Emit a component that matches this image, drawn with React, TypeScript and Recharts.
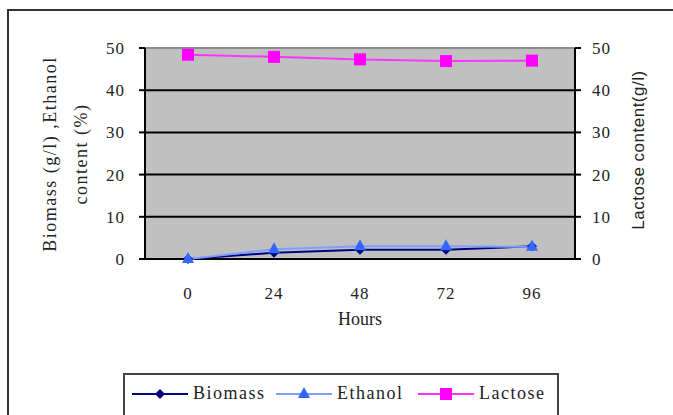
import { CartesianGrid, Line, LineChart, ReferenceLine, XAxis, YAxis } from "recharts";

const hours = ["0", "24", "48", "72", "96"];
const biomass = [0, 1.5, 2.2, 2.2, 3.0];
const ethanol = [0, 2.3, 3.0, 3.0, 2.9];
const lactose = [48.4, 47.9, 47.3, 46.9, 47.0];
const yTicks = [0, 10, 20, 30, 40, 50];
const bandEdges = [1, 2, 3, 4];

const data = hours.map((h, i) => ({
  hour: h,
  biomass: biomass[i],
  ethanol: ethanol[i],
  lactose: lactose[i],
}));

const serif = "Times New Roman, Liberation Serif, DejaVu Serif, serif";
const sans = "Arial, Liberation Sans, sans-serif";

const Diamond = ({ cx, cy, fill }: any) =>
  cx == null ? null : (
    <polygon points={`${cx},${cy - 5} ${cx + 5},${cy} ${cx},${cy + 5} ${cx - 5},${cy}`} fill={fill} />
  );
const Triangle = ({ cx, cy, fill }: any) =>
  cx == null ? null : (
    <polygon points={`${cx},${cy - 7} ${cx + 6},${cy + 4} ${cx - 6},${cy + 4}`} fill={fill} />
  );
const Square = ({ cx, cy, fill }: any) =>
  cx == null ? null : <rect x={cx - 6} y={cy - 6} width={12} height={12} fill={fill} />;

const series = [
  { key: "biomass", name: "Biomass", line: "#000080", mark: "#000080", Shape: Diamond },
  { key: "ethanol", name: "Ethanol", line: "#7f9fff", mark: "#3366ff", Shape: Triangle },
  { key: "lactose", name: "Lactose", line: "#ff33ff", mark: "#ff00ff", Shape: Square },
];

const tickStyle = { fontFamily: serif, fontSize: 17, fill: "#222", letterSpacing: 1 };

export default function App() {
  return (
    <div style={{ position: "absolute", left: 0, top: 0, width: 673, height: 415, background: "#fff", overflow: "hidden" }}>
      <div style={{ position: "absolute", left: 7, top: 9, width: 700, height: 500, borderTop: "2px solid #333", borderLeft: "2px solid #333" }} />
      <LineChart width={673} height={415} data={data} margin={{ top: 48, left: 85, right: 38, bottom: 120 }}>
        <CartesianGrid vertical={false} fill="#c0c0c0" stroke="#000" strokeWidth={2} yAxisId="left" />
        <XAxis
          dataKey="hour"
          xAxisId="cat"
          axisLine={false}
          tickLine={false}
          tickMargin={22}
          tick={tickStyle}
          height={36}
          interval={0}
          padding={{ left: 43, right: 43 }}
          label={{ value: "Hours", position: "insideBottom", offset: -30, style: { fontFamily: serif, fontSize: 18, fill: "#222" } }}
        />
        <XAxis
          type="number"
          xAxisId="edges"
          domain={[0, 5]}
          ticks={bandEdges}
          tick={false}
          tickSize={5}
          axisLine={{ stroke: "#000", strokeWidth: 2 }}
          tickLine={{ stroke: "#000", strokeWidth: 2 }}
          height={0}
          orientation="bottom"
        />
        <YAxis
          yAxisId="left"
          domain={[0, 50]}
          ticks={yTicks}
          width={60}
          tickSize={6}
          tickMargin={14}
          tick={tickStyle}
          axisLine={{ stroke: "#000", strokeWidth: 2 }}
          tickLine={{ stroke: "#000", strokeWidth: 2 }}
        />
        <YAxis
          yAxisId="right"
          orientation="right"
          domain={[0, 50]}
          ticks={yTicks}
          width={60}
          tickSize={6}
          tickMargin={11}
          tick={{ ...tickStyle, textAnchor: "start" }}
          axisLine={{ stroke: "#000", strokeWidth: 2 }}
          tickLine={{ stroke: "#000", strokeWidth: 2 }}
        />
        <ReferenceLine yAxisId="left" xAxisId="cat" y={50} stroke="#8c8c8c" strokeWidth={2} />
        {series.map((s) => (
          <Line
            key={s.key}
            dataKey={s.key}
            xAxisId="cat"
            yAxisId={s.key === "lactose" ? "right" : "left"}
            stroke={s.line}
            strokeWidth={2}
            dot={<s.Shape fill={s.mark} />}
            isAnimationActive={false}
          />
        ))}
        <text transform="translate(50,154) rotate(-90)" textAnchor="middle" dominantBaseline="central" style={{ fontFamily: serif, fontSize: 18, fill: "#222", letterSpacing: 1.5 }}>
          Biomass (g/l) ,Ethanol
        </text>
        <text transform="translate(81,154) rotate(-90)" textAnchor="middle" dominantBaseline="central" style={{ fontFamily: serif, fontSize: 18, fill: "#222", letterSpacing: 1.5 }}>
          content (%)
        </text>
        <text transform="translate(638,150) rotate(-90)" textAnchor="middle" dominantBaseline="central" style={{ fontFamily: sans, fontSize: 17, fill: "#222", letterSpacing: 0.5 }}>
          Lactose content(g/l)
        </text>
      </LineChart>
      <div style={{ position: "absolute", left: 123, top: 373, width: 432, height: 60, border: "2px solid #444", background: "#fff" }}>
        {series.map((s, i) => (
          <div key={s.key} style={{ position: "absolute", left: [7, 151, 293][i], top: 8, display: "flex", alignItems: "center" }}>
            <svg width={56} height={16}>
              <line x1={0} y1={8} x2={56} y2={8} stroke={s.line} strokeWidth={2} />
              <s.Shape cx={28} cy={8} fill={s.mark} />
            </svg>
            <span style={{ fontFamily: serif, fontSize: 18, color: "#222", letterSpacing: 1.5, marginLeft: 5 }}>{s.name}</span>
          </div>
        ))}
      </div>
    </div>
  );
}
